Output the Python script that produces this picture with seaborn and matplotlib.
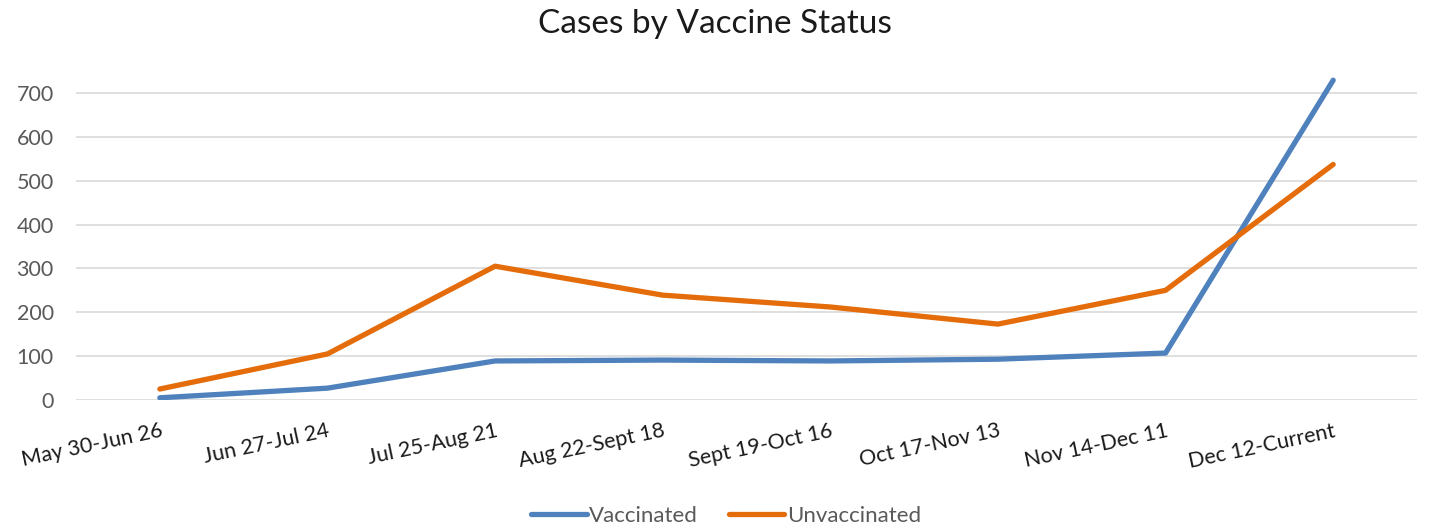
import pandas as pd
import seaborn as sns
from matplotlib import pyplot as plt

periods = ["May 30-Jun 26", "Jun 27-Jul 24", "Jul 25-Aug 21", "Aug 22-Sept 18",
           "Sept 19-Oct 16", "Oct 17-Nov 13", "Nov 14-Dec 11", "Dec 12-Current"]
vaccinated = [5, 27, 89, 91, 89, 93, 107, 729]
unvaccinated = [25, 105, 305, 239, 212, 173, 250, 537]

df = pd.DataFrame({
    "Period": periods * 2,
    "Cases": vaccinated + unvaccinated,
    "Status": ["Vaccinated"] * len(periods) + ["Unvaccinated"] * len(periods),
})

sns.set_style("white")
plt.rcParams["font.family"] = ["Lato", "DejaVu Sans"]

fig = plt.figure(figsize=(14.29, 5.27), dpi=100)
ax = fig.add_axes([0.0532, 0.241, 0.9384, 0.6243])

sns.lineplot(
    data=df, x="Period", y="Cases", hue="Status", sort=False,
    palette={"Vaccinated": "#4f81bd", "Unvaccinated": "#e46c0a"},
    linewidth=3.8, solid_capstyle="round", ax=ax, legend=False,
)

ax.set_xlim(-0.5, len(periods) - 0.5)
ax.set_ylim(0, 750)
ax.set_yticks(range(0, 701, 100))
ax.grid(axis="y", color="#d9d9d9", linewidth=1.2)
ax.set_axisbelow(True)
for s in ax.spines.values():
    s.set_visible(False)
ax.set_xlabel("")
ax.set_ylabel("")
ax.tick_params(axis="y", length=0, labelsize=15.5, labelcolor="#595959", pad=16)
ax.tick_params(axis="x", length=0, labelsize=15.5, labelcolor="#1a1a1a", pad=15)
plt.setp(ax.get_xticklabels(), rotation=12, ha="right", rotation_mode="anchor")

fig.suptitle("Cases by Vaccine Status", y=0.982, fontsize=24, color="#1a1a1a")

handles = [plt.Line2D([], [], color="#4f81bd", lw=3.8, solid_capstyle="round"),
           plt.Line2D([], [], color="#e46c0a", lw=3.8, solid_capstyle="round")]
fig.legend(handles, ["Vaccinated", "Unvaccinated"], loc="lower center",
           bbox_to_anchor=(0.508, -0.036), ncol=2, frameon=False, fontsize=16,
           labelcolor="#595959", handlelength=2.5, handletextpad=0.1,
           columnspacing=1.4)

fig.savefig("out.png", dpi=100)
